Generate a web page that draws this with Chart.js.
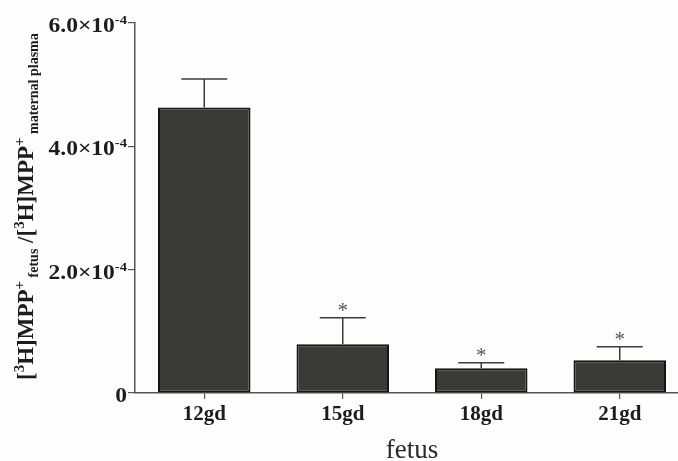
<!DOCTYPE html>
<html>
<head>
<meta charset="utf-8">
<script src="https://cdn.jsdelivr.net/npm/chart.js@4.4.1/dist/chart.umd.min.js"></script>
<style>
  html, body { margin: 0; padding: 0; background: #fdfdfb; overflow: hidden; }
  #wrap { width: 689px; height: 461px; }
</style>
</head>
<body>
<div id="wrap"><canvas id="c" width="689" height="461"></canvas></div>
<script>
// ---- data ----
const categories = ['12gd', '15gd', '18gd', '21gd'];
const meanRatio = [4.63e-4, 0.79e-4, 0.40e-4, 0.53e-4];
const errorUp = [0.46e-4, 0.43e-4, 0.09e-4, 0.22e-4];
const significant = [false, true, true, true];
const yTickValues = [0, 2e-4, 4e-4, 6e-4];
const yTickMantissa = ['0', '2.0', '4.0', '6.0'];
const yTickExponent = [null, '-4', '-4', '-4'];
const xTitle = 'fetus';
// y title runs: [text, kind] kind: n = normal, sup, sub
const yTitleRuns = [
  ['[', 'n'], ['3', 'sup'], ['H]MPP', 'n'], ['+', 'sup'], [' fetus', 'sub'],
  [' /[', 'n'], ['3', 'sup'], ['H]MPP', 'n'], ['+', 'sup'], [' maternal plasma', 'sub']
];

const SERIF = '"Liberation Serif", "Times New Roman", serif';

const overlay = {
  id: 'overlay',
  afterDatasetsDraw(chart) {
    const ctx = chart.ctx;
    const y = chart.scales.y;
    const meta = chart.getDatasetMeta(0);
    ctx.save();
    meta.data.forEach((bar, i) => {
      const x = bar.x;
      const yTop = y.getPixelForValue(meanRatio[i]);
      const yErr = y.getPixelForValue(meanRatio[i] + errorUp[i]);
      ctx.strokeStyle = '#3c3c3c';
      ctx.lineWidth = 1.5;
      ctx.beginPath();
      ctx.moveTo(x, yTop);
      ctx.lineTo(x, yErr);
      ctx.moveTo(x - 23, yErr);
      ctx.lineTo(x + 23, yErr);
      ctx.stroke();
      if (significant[i]) {
        ctx.fillStyle = '#555';
        ctx.font = '21px ' + SERIF;
        ctx.textAlign = 'center';
        ctx.textBaseline = 'middle';
        ctx.fillText('*', x, yErr - 6);
      }
    });
    ctx.restore();
  },
  afterDraw(chart) {
    const ctx = chart.ctx;
    const y = chart.scales.y;
    ctx.save();
    // y tick labels with superscript exponent (slightly wide face like the original)
    ctx.fillStyle = '#1c1c1c';
    ctx.textBaseline = 'alphabetic';
    const right = 127;
    yTickValues.forEach((v, i) => {
      const py = y.getPixelForValue(v);
      const base = py + 9;
      ctx.save();
      ctx.translate(right, base);
      ctx.scale(1.12, 1);
      let x = 0;
      if (yTickExponent[i]) {
        ctx.font = 'bold 13px ' + SERIF;
        const ew = ctx.measureText(yTickExponent[i]).width;
        x = -ew;
        ctx.textAlign = 'left';
        ctx.fillText(yTickExponent[i], x, -8);
        ctx.font = 'bold 21px ' + SERIF;
        ctx.textAlign = 'right';
        ctx.fillText(yTickMantissa[i] + '\u00d710', x, 0);
      } else {
        ctx.font = 'bold 21px ' + SERIF;
        ctx.textAlign = 'right';
        ctx.fillText(yTickMantissa[i], x, 0);
      }
      ctx.restore();
    });
    // rotated y title
    ctx.translate(33, 380);
    ctx.rotate(-Math.PI / 2);
    ctx.textAlign = 'left';
    ctx.fillStyle = '#1c1c1c';
    let tx = 0;
    yTitleRuns.forEach(([t, k]) => {
      let dy = 0;
      if (k === 'n') { ctx.font = 'bold 23px ' + SERIF; }
      else if (k === 'sup') { ctx.font = 'bold 15px ' + SERIF; dy = -9; }
      else { ctx.font = 'bold 14px ' + SERIF; dy = 5; }
      ctx.fillText(t, tx, dy);
      tx += ctx.measureText(t).width;
    });
    ctx.restore();
  }
};

new Chart(document.getElementById('c'), {
  type: 'bar',
  data: {
    labels: categories,
    datasets: [{
      data: meanRatio,
      backgroundColor: '#3a3a37',
      borderColor: '#151515',
      borderWidth: 2,
      borderSkipped: false,
      categoryPercentage: 1.0,
      barPercentage: 0.668
    }]
  },
  options: {
    responsive: false,
    animation: false,
    devicePixelRatio: 1,
    layout: { padding: { top: 23, left: 0, right: 0, bottom: 0 } },
    plugins: { legend: { display: false }, tooltip: { enabled: false } },
    scales: {
      x: {
        offset: true,
        grid: { offset: false, drawOnChartArea: false, drawTicks: true, tickLength: 6, color: '#555', lineWidth: 1.2 },
        border: { display: true, color: '#555', width: 1.5 },
        ticks: { color: '#1c1c1c', font: { family: SERIF, size: 21, weight: 'bold' }, padding: 3, maxRotation: 0 },
        title: { display: true, text: xTitle, color: '#2a2a2a', font: { family: SERIF, size: 27, weight: 'normal', lineHeight: 1 }, padding: { top: 0, bottom: -3 } },
        afterFit(s) { s.height = 68; }
      },
      y: {
        min: 0, max: 6e-4,
        afterBuildTicks(s) { s.ticks = yTickValues.map(v => ({ value: v })); },
        grid: { drawOnChartArea: false, drawTicks: true, tickLength: 7, color: '#555', lineWidth: 1.2 },
        border: { display: true, color: '#555', width: 1.5 },
        ticks: { color: 'rgba(0,0,0,0)', font: { size: 12 } },
        afterFit(s) { s.width = 135; }
      }
    }
  },
  plugins: [overlay]
});
</script>
</body>
</html>
